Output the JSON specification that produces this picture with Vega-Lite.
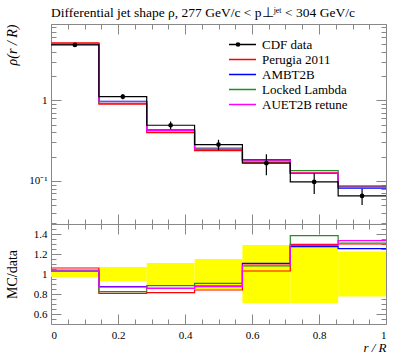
{
  "$schema": "https://vega.github.io/schema/vega-lite/v6.json",
  "padding": {"left": 4, "top": 5, "right": 0, "bottom": 0},
  "config": {
    "font": "Liberation Serif",
    "view": {"stroke": "#888", "strokeWidth": 1},
    "axis": {"grid": false, "domain": false, "tickColor": "#888", "tickWidth": 1, "labelFont": "Liberation Serif", "labelFontSize": 11, "labelColor": "#000", "titleFont": "Liberation Serif", "titleFontWeight": "normal", "titleColor": "#000"}
  },
  "datasets": {
    "mc": [
      {"series": "Perugia 2011", "x": 0, "v": 5.13, "r": 1.06},
      {"series": "Perugia 2011", "x": 0.142857, "v": 0.894, "r": 0.807},
      {"series": "Perugia 2011", "x": 0.285714, "v": 0.398, "r": 0.813},
      {"series": "Perugia 2011", "x": 0.428571, "v": 0.237, "r": 0.84},
      {"series": "Perugia 2011", "x": 0.571429, "v": 0.171, "r": 1.03},
      {"series": "Perugia 2011", "x": 0.714286, "v": 0.126, "r": 1.297},
      {"series": "Perugia 2011", "x": 0.857143, "v": 0.0848, "r": 1.30},
      {"series": "Perugia 2011", "x": 1, "v": 0.0848, "r": 1.30},
      {"series": "AMBT2B", "x": 0, "v": 4.985, "r": 1.03},
      {"series": "AMBT2B", "x": 0.142857, "v": 0.967, "r": 0.873},
      {"series": "AMBT2B", "x": 0.285714, "v": 0.420, "r": 0.857},
      {"series": "AMBT2B", "x": 0.428571, "v": 0.248, "r": 0.88},
      {"series": "AMBT2B", "x": 0.571429, "v": 0.184, "r": 1.107},
      {"series": "AMBT2B", "x": 0.714286, "v": 0.1237, "r": 1.273},
      {"series": "AMBT2B", "x": 0.857143, "v": 0.0817, "r": 1.253},
      {"series": "AMBT2B", "x": 1, "v": 0.0817, "r": 1.253},
      {"series": "Locked Lambda", "x": 0, "v": 4.985, "r": 1.03},
      {"series": "Locked Lambda", "x": 0.142857, "v": 0.912, "r": 0.823},
      {"series": "Locked Lambda", "x": 0.285714, "v": 0.433, "r": 0.883},
      {"series": "Locked Lambda", "x": 0.428571, "v": 0.256, "r": 0.907},
      {"series": "Locked Lambda", "x": 0.571429, "v": 0.179, "r": 1.08},
      {"series": "Locked Lambda", "x": 0.714286, "v": 0.1344, "r": 1.383},
      {"series": "Locked Lambda", "x": 0.857143, "v": 0.0854, "r": 1.31},
      {"series": "Locked Lambda", "x": 1, "v": 0.0854, "r": 1.31},
      {"series": "AUET2B retune", "x": 0, "v": 5.034, "r": 1.04},
      {"series": "AUET2B retune", "x": 0.142857, "v": 0.964, "r": 0.87},
      {"series": "AUET2B retune", "x": 0.285714, "v": 0.420, "r": 0.857},
      {"series": "AUET2B retune", "x": 0.428571, "v": 0.246, "r": 0.873},
      {"series": "AUET2B retune", "x": 0.571429, "v": 0.181, "r": 1.09},
      {"series": "AUET2B retune", "x": 0.714286, "v": 0.1251, "r": 1.287},
      {"series": "AUET2B retune", "x": 0.857143, "v": 0.0869, "r": 1.333},
      {"series": "AUET2B retune", "x": 1, "v": 0.0869, "r": 1.333}
    ],
    "cdf": [
      {"series": "CDF data", "x": 0, "v": 4.84},
      {"series": "CDF data", "x": 0.142857, "v": 1.108},
      {"series": "CDF data", "x": 0.285714, "v": 0.49},
      {"series": "CDF data", "x": 0.428571, "v": 0.282},
      {"series": "CDF data", "x": 0.571429, "v": 0.166},
      {"series": "CDF data", "x": 0.714286, "v": 0.0972},
      {"series": "CDF data", "x": 0.857143, "v": 0.0652},
      {"series": "CDF data", "x": 1, "v": 0.0652}
    ],
    "pts": [
      {"series": "CDF data", "xc": 0.0714, "xl": 0, "xh": 0.142857, "v": 4.84, "lo": 4.695, "hi": 4.985, "blo": 0.97, "bhi": 1.03},
      {"series": "CDF data", "xc": 0.2143, "xl": 0.142857, "xh": 0.285714, "v": 1.108, "lo": 1.03, "hi": 1.186, "blo": 0.93, "bhi": 1.07},
      {"series": "CDF data", "xc": 0.3571, "xl": 0.285714, "xh": 0.428571, "v": 0.49, "lo": 0.436, "hi": 0.544, "blo": 0.89, "bhi": 1.11},
      {"series": "CDF data", "xc": 0.5, "xl": 0.428571, "xh": 0.571429, "v": 0.282, "lo": 0.24, "hi": 0.324, "blo": 0.85, "bhi": 1.15},
      {"series": "CDF data", "xc": 0.6429, "xl": 0.571429, "xh": 0.714286, "v": 0.166, "lo": 0.118, "hi": 0.214, "blo": 0.71, "bhi": 1.29},
      {"series": "CDF data", "xc": 0.7857, "xl": 0.714286, "xh": 0.857143, "v": 0.0972, "lo": 0.069, "hi": 0.125, "blo": 0.71, "bhi": 1.29},
      {"series": "CDF data", "xc": 0.9286, "xl": 0.857143, "xh": 1, "v": 0.0652, "lo": 0.0505, "hi": 0.0799, "blo": 0.775, "bhi": 1.225}
    ]
  },
  "spacing": 0,
  "bounds": "flush",
  "resolve": {"scale": {"color": "independent"}, "legend": {"color": "independent"}},
  "vconcat": [
    {
      "title": {"text": "Differential jet shape ρ, 277 GeV/c < p⊥ʲᵉᵗ < 304 GeV/c", "anchor": "start", "frame": "group", "fontSize": 13.5, "font": "Liberation Serif", "fontWeight": "normal", "offset": 4},
      "width": 335,
      "height": 200,
      "layer": [
        {
          "data": {"name": "mc"},
          "mark": {"type": "line", "interpolate": "step-after", "strokeWidth": 1.2},
          "encoding": {
            "x": {"field": "x", "type": "quantitative", "scale": {"domain": [0, 1], "nice": false, "zero": false},
              "axis": {"orient": "bottom", "title": null, "labels": false, "values": [0,0.05,0.1,0.15,0.2,0.25,0.3,0.35,0.4,0.45,0.5,0.55,0.6,0.65,0.7,0.75,0.8,0.85,0.9,0.95,1],
                "tickSize": {"condition": {"test": "abs(datum.value*5-round(datum.value*5))<0.001", "value": -10}, "value": -5}}},
            "y": {"field": "v", "type": "quantitative", "scale": {"type": "log", "domain": [0.0293, 8.8], "nice": false},
              "axis": {"orient": "left", "title": "ρ(r / R)", "titleFontStyle": "italic", "titleFontSize": 14, "titleAnchor": "end", "titleY": 0, "titleAlign": "right", "titlePadding": 6, "minExtent": 26, "maxExtent": 26, "labelPadding": 14,
                "values": [0.03,0.04,0.05,0.06,0.07,0.08,0.09,0.1,0.2,0.3,0.4,0.5,0.6,0.7,0.8,0.9,1,2,3,4,5,6,7,8],
                "labelExpr": "datum.value==1 ? '1' : (datum.value==0.1 ? '10⁻¹' : '')",
                "tickSize": {"condition": {"test": "datum.value==1 || datum.value==0.1", "value": -10}, "value": -5}}},
            "color": {"field": "series", "type": "nominal",
              "scale": {"domain": ["CDF data", "Perugia 2011", "AMBT2B", "Locked Lambda", "AUET2B retune"], "range": ["#000000", "#ff0000", "#0000ff", "#1f8f1f", "#ff00ff"]},
              "legend": {"orient": "none", "legendX": 177, "legendY": 13, "title": null, "symbolType": "stroke", "symbolSize": 729, "symbolStrokeWidth": 1.3, "clipHeight": 15, "labelFont": "Liberation Serif", "labelFontSize": 13, "labelOffset": 5, "rowPadding": 0, "labelColor": "#000"}}
          }
        },
        {
          "data": {"name": "cdf"},
          "mark": {"type": "line", "interpolate": "step-after", "strokeWidth": 1.2},
          "encoding": {
            "x": {"field": "x", "type": "quantitative",
              "axis": {"orient": "top", "title": null, "labels": false, "values": [0,0.05,0.1,0.15,0.2,0.25,0.3,0.35,0.4,0.45,0.5,0.55,0.6,0.65,0.7,0.75,0.8,0.85,0.9,0.95,1],
                "tickSize": {"condition": {"test": "abs(datum.value*5-round(datum.value*5))<0.001", "value": -10}, "value": -5}}},
            "y": {"field": "v", "type": "quantitative",
              "axis": {"orient": "right", "title": null, "labels": false,
                "values": [0.03,0.04,0.05,0.06,0.07,0.08,0.09,0.1,0.2,0.3,0.4,0.5,0.6,0.7,0.8,0.9,1,2,3,4,5,6,7,8],
                "tickSize": {"condition": {"test": "datum.value==1 || datum.value==0.1", "value": -10}, "value": -5}}},
            "color": {"field": "series", "type": "nominal"}
          }
        },
        {
          "data": {"name": "pts"},
          "mark": {"type": "rule", "strokeWidth": 1.2, "color": "#000"},
          "encoding": {
            "x": {"field": "xc", "type": "quantitative", "axis": null},
            "y": {"field": "lo", "type": "quantitative", "axis": null},
            "y2": {"field": "hi"}
          }
        },
        {
          "data": {"name": "pts"},
          "mark": {"type": "point", "filled": true, "opacity": 1, "color": "#000", "size": 22},
          "encoding": {
            "x": {"field": "xc", "type": "quantitative", "axis": null},
            "y": {"field": "v", "type": "quantitative", "axis": null},
            "shape": {"field": "series", "type": "nominal", "scale": {"domain": ["CDF data"], "range": ["circle"]},
              "legend": {"orient": "none", "legendX": 184.5, "legendY": 18, "title": null, "symbolSize": 22, "symbolFillColor": "#000", "symbolStrokeWidth": 0, "labelExpr": "''", "labelFontSize": 1}}
          }
        }
      ],
      "resolve": {"axis": {"x": "independent", "y": "independent"}}
    },
    {
      "width": 335,
      "height": 100,
      "layer": [
        {
          "data": {"name": "pts"},
          "mark": {"type": "rect", "color": "#ffff00", "opacity": 1},
          "encoding": {
            "x": {"field": "xl", "type": "quantitative", "scale": {"domain": [0, 1], "nice": false, "zero": false},
              "axis": {"orient": "bottom", "title": "r / R", "titleFontStyle": "italic", "titleFontSize": 13, "titleAnchor": "end", "titlePadding": 1, "labelPadding": 15,
                "values": [0,0.05,0.1,0.15,0.2,0.25,0.3,0.35,0.4,0.45,0.5,0.55,0.6,0.65,0.7,0.75,0.8,0.85,0.9,0.95,1],
                "labelExpr": "abs(datum.value*5-round(datum.value*5))<0.001 ? format(datum.value, '~g') : ''",
                "tickSize": {"condition": {"test": "abs(datum.value*5-round(datum.value*5))<0.001", "value": -10}, "value": -5}}},
            "x2": {"field": "xh"},
            "y": {"field": "blo", "type": "quantitative", "scale": {"domain": [0.5, 1.5], "nice": false, "zero": false},
              "axis": {"orient": "left", "title": "MC/data", "titleFontSize": 14, "titlePadding": 6, "minExtent": 26, "maxExtent": 26, "labelPadding": 14,
                "values": [0.55,0.6,0.65,0.7,0.75,0.8,0.85,0.9,0.95,1,1.05,1.1,1.15,1.2,1.25,1.3,1.35,1.4,1.45],
                "labelExpr": "abs(datum.value*5-round(datum.value*5))<0.001 ? format(datum.value, '~g') : ''",
                "tickSize": {"condition": {"test": "abs(datum.value*5-round(datum.value*5))<0.001", "value": -10}, "value": -5}}},
            "y2": {"field": "bhi"}
          }
        },
        {
          "mark": {"type": "rule", "color": "#777", "strokeWidth": 0.8},
          "encoding": {"y": {"datum": 1, "type": "quantitative", "axis": null}}
        },
        {
          "data": {"name": "mc"},
          "mark": {"type": "line", "interpolate": "step-after", "strokeWidth": 1.2},
          "encoding": {
            "x": {"field": "x", "type": "quantitative",
              "axis": {"orient": "top", "title": null, "labels": false, "values": [0,0.05,0.1,0.15,0.2,0.25,0.3,0.35,0.4,0.45,0.5,0.55,0.6,0.65,0.7,0.75,0.8,0.85,0.9,0.95,1],
                "tickSize": {"condition": {"test": "abs(datum.value*5-round(datum.value*5))<0.001", "value": -10}, "value": -5}}},
            "y": {"field": "r", "type": "quantitative",
              "axis": {"orient": "right", "title": null, "labels": false,
                "values": [0.55,0.6,0.65,0.7,0.75,0.8,0.85,0.9,0.95,1,1.05,1.1,1.15,1.2,1.25,1.3,1.35,1.4,1.45],
                "tickSize": {"condition": {"test": "abs(datum.value*5-round(datum.value*5))<0.001", "value": -10}, "value": -5}}},
            "color": {"field": "series", "type": "nominal",
              "scale": {"domain": ["Perugia 2011", "AMBT2B", "Locked Lambda", "AUET2B retune"], "range": ["#ff0000", "#0000ff", "#1f8f1f", "#ff00ff"]},
              "legend": null}
          }
        }
      ],
      "resolve": {"axis": {"x": "independent", "y": "independent"}}
    }
  ]
}
